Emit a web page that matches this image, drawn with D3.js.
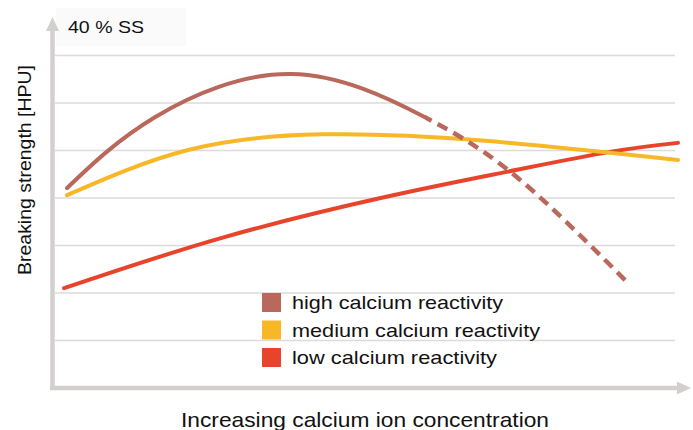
<!DOCTYPE html>
<html>
<head>
<meta charset="utf-8">
<script src="https://cdn.jsdelivr.net/npm/d3@7"></script>
<style>
  body { margin: 0; background: #fff; }
  text { font-family: "Liberation Sans", Arial, sans-serif; fill: #111; }
</style>
</head>
<body>
<script>
// values (x: concentration 0..10, y: strength 0..7)
let seriesNames = ["high calcium reactivity", "medium calcium reactivity", "low calcium reactivity"]
let seriesColors = ["#b9685b", "#f8b726", "#e8432b"]

let high = [[0.05, 4.2], [1.48, 5.69], [3.7, 6.6], [5.88, 5.69], [7.43, 4.37], [9.17, 2.22]]
let highDashFrom = 5.88 // beyond this value the curve is drawn dashed
let medium = [[0.05, 4.05], [2.02, 5.0], [4.2, 5.33], [6.8, 5.2], [10, 4.79]]
let low = [[0, 2.09], [2.57, 3.15], [5.23, 4.01], [7.21, 4.54], [8.89, 4.96], [10, 5.15]]

let gridValues = [1, 2, 3, 4, 5, 6, 7]

let width = 693, height = 430

let svg = d3.select("body").append("svg")
    .attr("width", width)
    .attr("height", height)

let x = d3.scaleLinear().domain([0, 10]).range([64, 678])
let y = d3.scaleLinear().domain([0, 7]).range([387.5, 55])

// clip regions for solid / dashed part of the high curve
let defs = svg.append("defs")
defs.append("clipPath").attr("id", "solidPart")
  .append("rect").attr("x", 0).attr("y", 0).attr("width", x(highDashFrom)).attr("height", height)
defs.append("clipPath").attr("id", "dashPart")
  .append("rect").attr("x", x(highDashFrom)).attr("y", 0).attr("width", width).attr("height", height)

// faint box behind the title
svg.append("rect")
  .attr("x", 56).attr("y", 8).attr("width", 130).attr("height", 38)
  .attr("fill", "#fbfafa")

// gridlines
svg.append("g")
  .attr("transform", "translate(55,0)")
  .call(d3.axisLeft(y).tickValues(gridValues).tickSize(-620).tickFormat(""))
  .call(g => g.select(".domain").remove())
  .call(g => g.selectAll("line").attr("stroke", "#dcdada").attr("stroke-width", 1.5))

// axes with arrows
let axisColor = "#d3cfcf"
svg.append("line")
  .attr("x1", 52.5).attr("y1", 28).attr("x2", 52.5).attr("y2", 390)
  .attr("stroke", axisColor).attr("stroke-width", 4.5)
svg.append("path")
  .attr("d", "M52.5,17 L46,31 L59,31 Z")
  .attr("fill", axisColor)
svg.append("line")
  .attr("x1", 50).attr("y1", 388).attr("x2", 680).attr("y2", 388)
  .attr("stroke", axisColor).attr("stroke-width", 4.5)
svg.append("path")
  .attr("d", "M691,388 L677,381.5 L677,394.5 Z")
  .attr("fill", axisColor)

// curves
let line = d3.line()
  .x(d => x(d[0]))
  .y(d => y(d[1]))
  .curve(d3.curveNatural)

svg.append("path").datum(low)
  .attr("d", line).attr("fill", "none")
  .attr("stroke", seriesColors[2]).attr("stroke-width", 4).attr("stroke-linecap", "round")
svg.append("path").datum(medium)
  .attr("d", line).attr("fill", "none")
  .attr("stroke", seriesColors[1]).attr("stroke-width", 4).attr("stroke-linecap", "round")
svg.append("path").datum(high)
  .attr("d", line).attr("fill", "none")
  .attr("clip-path", "url(#solidPart)")
  .attr("stroke", seriesColors[0]).attr("stroke-width", 4).attr("stroke-linecap", "round")
svg.append("path").datum(high)
  .attr("d", line).attr("fill", "none")
  .attr("clip-path", "url(#dashPart)")
  .attr("stroke", seriesColors[0]).attr("stroke-width", 4.5)
  .attr("stroke-dasharray", "11,7")

// title and axis labels
svg.append("text")
  .attr("x", 68).attr("y", 33)
  .attr("font-size", 17)
  .attr("textLength", 76).attr("lengthAdjust", "spacingAndGlyphs")
  .text("40 % SS")

svg.append("text")
  .attr("transform", "translate(31,170) rotate(-90)")
  .attr("text-anchor", "middle")
  .attr("font-size", 18)
  .attr("textLength", 210).attr("lengthAdjust", "spacingAndGlyphs")
  .text("Breaking strength [HPU]")

svg.append("text")
  .attr("x", 365).attr("y", 427)
  .attr("text-anchor", "middle")
  .attr("font-size", 21)
  .attr("textLength", 368).attr("lengthAdjust", "spacingAndGlyphs")
  .text("Increasing calcium ion concentration")

// legend
let legendWidths = [211, 248, 205]
let legend = svg.append("g").selectAll("g")
  .data(seriesNames)
  .join("g")
  .attr("transform", (d, i) => `translate(262,${293 + i * 27.5})`)

legend.append("rect")
  .attr("width", 19).attr("height", 19)
  .attr("fill", (d, i) => seriesColors[i])

legend.append("text")
  .attr("x", 30).attr("y", 16)
  .attr("font-size", 19)
  .attr("textLength", (d, i) => legendWidths[i]).attr("lengthAdjust", "spacingAndGlyphs")
  .text(d => d)
</script>
</body>
</html>
